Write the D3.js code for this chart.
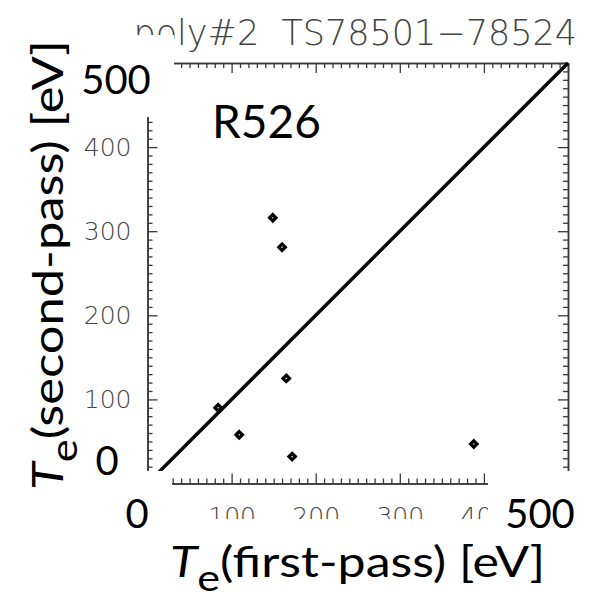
<!DOCTYPE html>
<html>
<head>
<meta charset="utf-8">
<script src="https://cdn.jsdelivr.net/npm/d3@7"></script>
<style>
  body { margin: 0; background: #fff; }
  svg { display: block; }
</style>
</head>
<body>
<svg width="595" height="596"></svg>
<script>
// values
var firstPass = [149, 160, 165, 84, 109, 172, 388];
var secondPass = [316, 281, 125, 90, 58, 32, 47];
var majorTicks = [0, 100, 200, 300, 400, 500];
var majorLabels = ["0", "100", "200", "300", "400", "500"];
var bigXLabels = ["0", "500"];
var bigYLabels = ["0", "500"];
var plotTitle = "poly#2  TS78501\u221278524";
var runLabel = "R526";

var svg = d3.select("svg");

var x = d3.scaleLinear([0, 500], [147.5, 568]);
var y = d3.scaleLinear([0, 500], [483.5, 63]);

var minorTicks = d3.range(0, 501, 10).filter(function (v) { return v % 100 !== 0; });

var axisColor = "#383838";
var idlFont = "'DejaVu Sans', sans-serif";
var bigFont = "Lato, 'Open Sans', sans-serif";
var bigWeight = 400;

function labelOf(d) { return majorLabels[majorTicks.indexOf(d)]; }

// draws one side of the box: minor + major ticks
function side(make, scale, tx, ty, showLabels, pad) {
  var g = svg.append("g").attr("transform", "translate(" + tx + "," + ty + ")");
  g.append("g").call(make(scale).tickValues(minorTicks).tickSizeInner(-5).tickSizeOuter(0).tickFormat(""));
  g.append("g").call(make(scale).tickValues(majorTicks).tickSizeInner(-10).tickSizeOuter(0)
    .tickPadding(pad || 3).tickFormat(showLabels ? labelOf : ""));
  g.selectAll(".domain").attr("stroke", axisColor).attr("stroke-width", 1.5);
  g.selectAll(".tick line").attr("stroke", axisColor).attr("stroke-width", 1.3);
  g.selectAll(".tick text")
    .attr("fill", "#444")
    .style("font-family", idlFont)
    .style("font-size", "25px")
    .style("font-weight", 200);
  return g;
}

side(d3.axisLeft, y, x(0), 0, true, 16);
side(d3.axisRight, y, x(500), 0, false);
side(d3.axisTop, x, 0, y(500), false);
side(d3.axisBottom, x, 0, y(0), true, 24);

// title (IDL style)
svg.append("text")
  .attr("x", 577).attr("y", 45)
  .attr("text-anchor", "end")
  .attr("fill", "#444")
  .style("font-family", idlFont)
  .style("font-size", "35px")
  .style("font-weight", 200)
  .style("white-space", "pre")
  .text(plotTitle);

// one-to-one line
svg.append("line")
  .attr("x1", x(0)).attr("y1", y(0))
  .attr("x2", x(500)).attr("y2", y(500))
  .attr("stroke", "#000")
  .attr("stroke-width", 3.4);

// data points: heavy hollow diamonds
var pts = firstPass.map(function (v, i) { return [v, secondPass[i]]; });
svg.selectAll("path.pt").data(pts).enter().append("path")
  .attr("class", "pt")
  .attr("d", d3.symbol(d3.symbolDiamond2, 26))
  .attr("transform", function (d) { return "translate(" + x(d[0]) + "," + y(d[1]) + ")"; })
  .attr("fill", "#fff")
  .attr("stroke", "#000")
  .attr("stroke-width", 3.2);

// white boxes of the overlaid slide labels
var boxes = [
  [60, 35, 114, 82],
  [0, 471, 172, 48],
  [488, 471, 107, 48],
  [0, 519, 595, 77]
];
svg.selectAll("rect.box").data(boxes).enter().append("rect")
  .attr("x", function (d) { return d[0]; })
  .attr("y", function (d) { return d[1]; })
  .attr("width", function (d) { return d[2]; })
  .attr("height", function (d) { return d[3]; })
  .attr("fill", "#fff");

// large axis end labels
function bigText(px, py, txt, size, anchor) {
  svg.append("text").attr("x", px).attr("y", py).attr("text-anchor", anchor || "middle")
    .style("font-family", bigFont).style("font-weight", bigWeight)
    .style("font-size", size + "px").text(txt);
}
bigText(116, 94, bigYLabels[1], 40);
bigText(107, 475, bigYLabels[0], 40);
bigText(137, 528, bigXLabels[0], 40);
bigText(540, 528, bigXLabels[1], 40);
bigText(212, 138, runLabel, 46, "start");

// axis titles, stretched to the width seen in the picture
function axisTitle(g, rest, width) {
  var t = g.append("text").attr("x", 0).attr("y", 0)
    .style("font-family", bigFont).style("font-weight", bigWeight).style("font-size", "42px");
  t.append("tspan").style("font-style", "italic").text("T");
  t.append("tspan").attr("dy", 14).style("font-size", "36px").text("e");
  t.append("tspan").attr("dy", -14).text(rest);
  var w = t.node().getComputedTextLength();
  t.attr("transform", "scale(" + (width / w) + ",1)");
}

var gx = svg.append("g").attr("transform", "translate(170,577)");
axisTitle(gx, "(first-pass) [eV]", 375);

var gy = svg.append("g").attr("transform", "translate(63,490) rotate(-90)");
axisTitle(gy, "(second-pass) [eV]", 450);
</script>
</body>
</html>
